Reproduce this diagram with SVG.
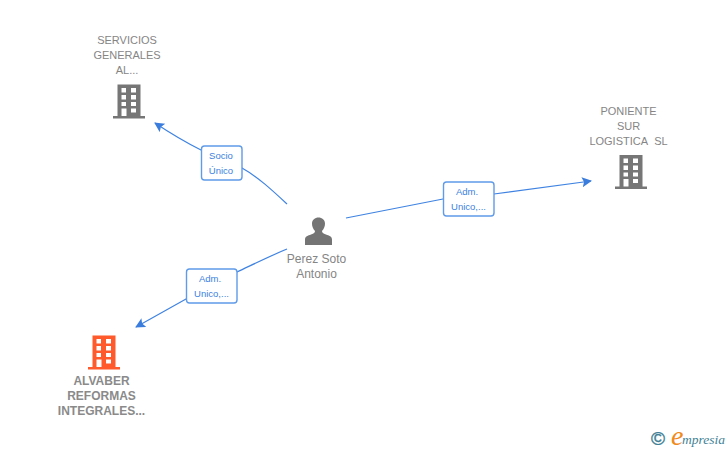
<svg xmlns="http://www.w3.org/2000/svg" width="728" height="450" viewBox="0 0 728 450">
<style>
.lbl{font-family:"Liberation Sans",Arial,sans-serif;font-size:11px;fill:#858585;text-anchor:middle}
.b{font-weight:bold;font-size:12px;fill:#8a8a8a}
.tag{font-family:"Liberation Sans",Arial,sans-serif;font-size:9.500px;fill:#3b7fe0;text-anchor:middle}
.box{fill:#fff;stroke:#5f9be8;stroke-width:1.400}
.con{fill:none;stroke:#3f83e2;stroke-width:1.200}
</style>
<defs>
<marker id="arrow" markerUnits="userSpaceOnUse" markerWidth="12" markerHeight="12" refX="9" refY="5" orient="auto">
<path d="M0 0L10 5L0 10L2 5Z" fill="#3b7ddd"/>
</marker>
<path id="bld" fill-rule="evenodd" d="M4.500 0.500H27.500V32H32V34.500H0V32H4.500ZM8.500 4V8.500H13V4ZM18 4V8.500H23V4ZM8.500 11V15.500H13V11ZM18 11V15.500H23V11ZM8.500 18V22H13V18ZM18 18V22H23V18ZM8.500 24.500V32H13.500V24.500ZM18 24.500V28.500H23V24.500Z"/>
</defs>
<g id="connectors">
<path class="con" marker-end="url(#arrow)" d="M287 204C272 190 258 177 242 168L201 150C185 142 170 133 155 123"/>
<path class="con" marker-end="url(#arrow)" d="M346 218L443 199L494 194L591 181"/>
<path class="con" marker-end="url(#arrow)" d="M287 249C270 256 254 264 237 272L186 299L136 327"/>
</g>
<g id="edge-socio">
<rect class="box" x="201.500" y="146" width="40.500" height="34" rx="3"/>
<text class="tag" x="221" y="159">Socio</text>
<text class="tag" x="221" y="174">Único</text>
</g>
<g id="edge-adm-poniente">
<rect class="box" x="443.500" y="182" width="50.500" height="34" rx="3"/>
<text class="tag" x="467" y="195">Adm.</text>
<text class="tag" x="468.500" y="210">Unico,...</text>
</g>
<g id="edge-adm-alvaber">
<rect class="box" x="186.500" y="269" width="50.500" height="34" rx="3"/>
<text class="tag" x="210" y="282">Adm.</text>
<text class="tag" x="211.500" y="297">Unico,...</text>
</g>
<g id="node-servicios">
<text class="lbl" x="127" y="44">SERVICIOS</text>
<text class="lbl" x="127" y="59">GENERALES</text>
<text class="lbl" x="127" y="74">AL...</text>
<use href="#bld" x="113" y="84" fill="#767676"/>
</g>
<g id="node-poniente">
<text class="lbl" x="628.500" y="115">PONIENTE</text>
<text class="lbl" x="628.500" y="130">SUR</text>
<text class="lbl" x="628.500" y="145">LOGISTICA&#160; SL</text>
<use href="#bld" x="615" y="154.500" fill="#767676"/>
</g>
<g id="node-alvaber">
<use href="#bld" x="88" y="335" fill="#ff5a2b"/>
<text class="lbl b" x="101.500" y="385">ALVABER</text>
<text class="lbl b" x="101.500" y="400">REFORMAS</text>
<text class="lbl b" x="101.500" y="415">INTEGRALES...</text>
</g>
<g id="node-perez">
<path fill="#747474" d="M305 245V239.500C305 236.500 308 235.500 311 234.500C314 233.500 315 232.500 315 231C312.800 228.500 312 226 312 223.500C312 220 315 217.500 318.500 217.500C322 217.500 325 220 325 223.500C325 226 324.200 228.500 322 231C322 232.500 323 233.500 326 234.500C329 235.500 332 236.500 332 239.500V245Z"/>
<text class="lbl" style="font-size:12px" x="316.500" y="263">Perez Soto</text>
<text class="lbl" style="font-size:12px" x="316.500" y="278">Antonio</text>
</g>
<g id="logo">
<text x="658" y="445" text-anchor="middle" font-family="'Liberation Sans',sans-serif" font-size="19" stroke="#3f7f96" stroke-width="0.400" fill="#3f7f96">©</text>
<text x="671" y="444.500" font-family="'Liberation Serif',serif" font-style="italic" font-size="13.500" fill="#3f8296"><tspan font-size="28" fill="#f08a1d">e</tspan><tspan dx="-1.500" dy="-1">mpresia</tspan></text>
</g>
</svg>
